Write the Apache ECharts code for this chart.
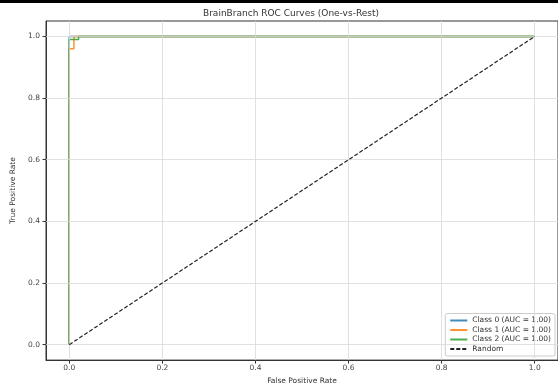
<!DOCTYPE html>
<html>
<head>
<meta charset="utf-8">
<style>
html,body{margin:0;padding:0;background:#fff;}
#chart{width:558px;height:390px;}
</style>
<script src="https://cdn.jsdelivr.net/npm/echarts@6/dist/echarts.min.js"></script>
</head>
<body>
<div id="chart"></div>
<script>
const tickValues = [0, 0.2, 0.4, 0.6, 0.8, 1.0];
const class0FPR = [0, 0, 1];
const class0TPR = [0, 1, 1];
const class1FPR = [0, 0, 0.01, 0.01, 1];
const class1TPR = [0, 0.96, 0.96, 1, 1];
const class2FPR = [0, 0, 0.02, 0.02, 1];
const class2TPR = [0, 0.99, 0.99, 1, 1];
const randomFPR = [0, 1];
const randomTPR = [0, 1];
const seriesNames = ['Class 0 (AUC = 1.00)', 'Class 1 (AUC = 1.00)', 'Class 2 (AUC = 1.00)', 'Random'];

function pairs(xs, ys) { return xs.map((x, i) => [x, ys[i]]); }

const FONT = 'DejaVu Sans';
const chart = echarts.init(document.getElementById('chart'), null, {renderer: 'canvas'});

function axisCommon(name, isY) {
  return {
    type: 'value', min: -0.05, max: 1.05,
    name: name, nameLocation: 'middle', nameGap: isY ? 27 : 12,
    nameTextStyle: {fontFamily: FONT, fontSize: 7.5, color: '#333'},
    axisLine: {show: true, onZero: false, lineStyle: {color: '#333', width: 1}},
    axisTick: {show: true, length: 3.5, customValues: tickValues, lineStyle: {color: '#333'}},
    axisLabel: {customValues: tickValues, fontFamily: FONT, fontSize: 7.5, color: '#444',
      margin: isY ? 6 : 4, formatter: v => v.toFixed(1)},
    splitLine: {show: false}
  };
}

const gridColor = '#d9d9d9';
function curve(name, xs, ys, color, z) {
  return {name: name, type: 'line', data: pairs(xs, ys), symbol: 'none',
    lineStyle: {color: color, width: 1.5, opacity: 0.85},
    itemStyle: {color: color, opacity: 0}, z: z};
}
const option = {
  animation: false,
  backgroundColor: '#fff',
  title: {
    text: 'BrainBranch ROC Curves (One-vs-Rest)',
    left: 286, top: 4, textAlign: 'center',
    textStyle: {fontFamily: FONT, fontSize: 9, fontWeight: 'normal', color: '#333'}
  },
  graphic: [{type: 'rect', shape: {x: 0, y: 0, width: 558, height: 3}, style: {fill: '#000'}, z: 100}],
  grid: {left: 46, right: 0, top: 21, bottom: 24, show: true, borderColor: '#333', borderWidth: 1, containLabel: false},
  xAxis: axisCommon('False Positive Rate', false),
  yAxis: axisCommon('True Positive Rate', true),
  legend: {
    orient: 'vertical', right: 3, bottom: 34,
    data: seriesNames,
    itemWidth: 17, itemHeight: 8, itemGap: 1.5,
    padding: [3, 4, 3, 4],
    borderColor: '#ccc', borderWidth: 1, borderRadius: 2,
    backgroundColor: 'rgba(255,255,255,0.85)',
    textStyle: {fontFamily: FONT, fontSize: 7.5, color: '#333'}
  },
  series: [
    {
      name: '_grid', type: 'line', data: [], silent: true,
      markLine: {
        silent: true, symbol: 'none', label: {show: false},
        lineStyle: {color: gridColor, width: 0.8, type: 'solid'},
        animation: false,
        data: tickValues.map(v => ({xAxis: v})).concat(tickValues.map(v => ({yAxis: v})))
      },
      z: 0
    },
    curve(seriesNames[0], class0FPR, class0TPR, '#1f77b4', 2),
    curve(seriesNames[1], class1FPR, class1TPR, '#ff7f0e', 3),
    curve(seriesNames[2], class2FPR, class2TPR, '#2ca02c', 4),
    {name: seriesNames[3], type: 'line', data: pairs(randomFPR, randomTPR), symbol: 'none',
      lineStyle: {color: '#222', width: 1.2, type: [4, 2]}, itemStyle: {color: '#222', opacity: 0}, z: 5}
  ]
};
chart.setOption(option);
</script>
</body>
</html>
